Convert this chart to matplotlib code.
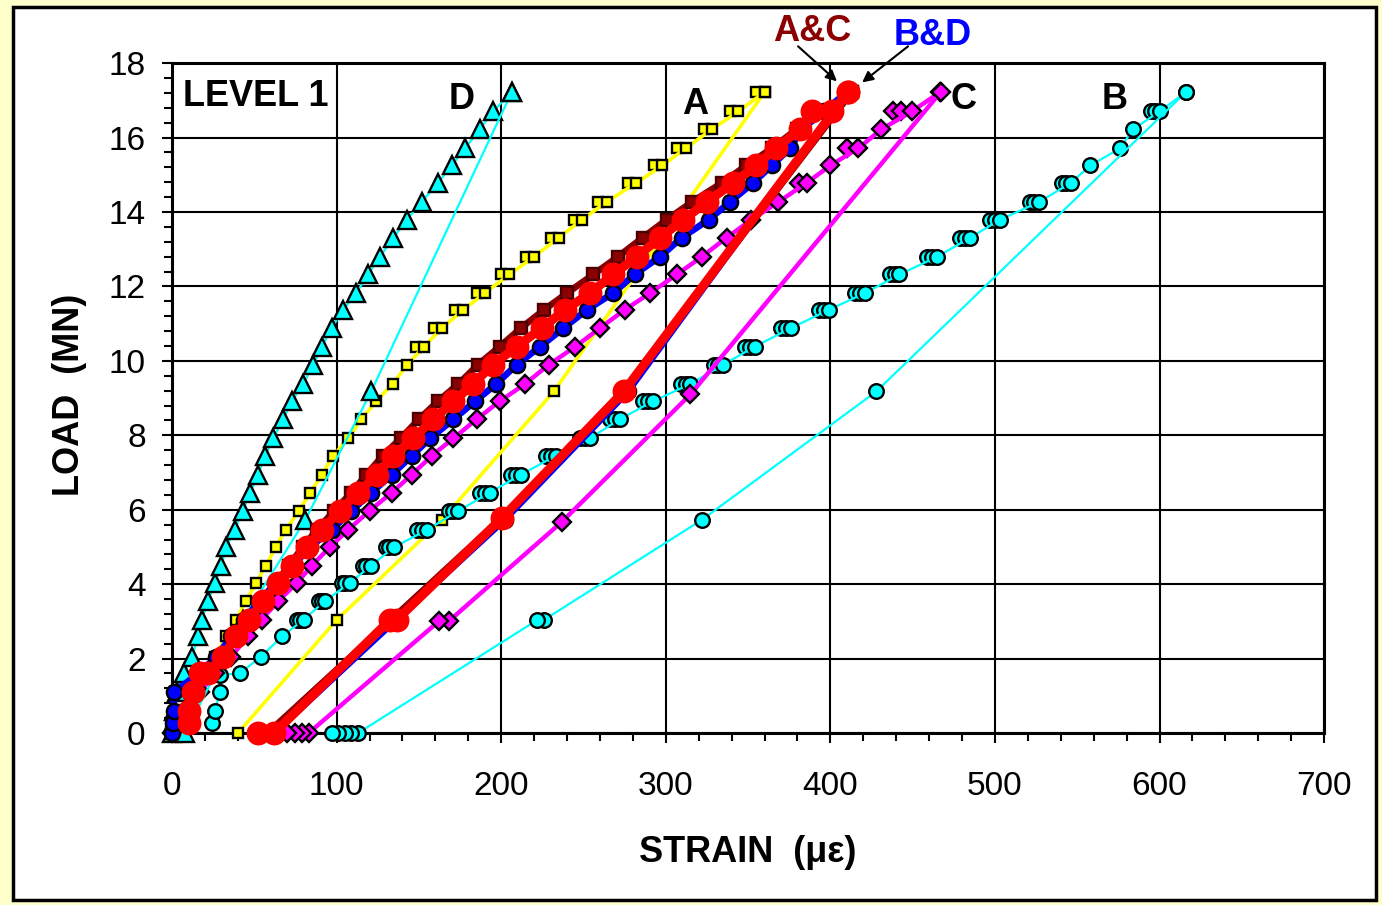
import matplotlib.pyplot as plt
from matplotlib.patches import Rectangle
from matplotlib.ticker import MultipleLocator

plt.rcParams['font.family'] = ['Liberation Sans', 'DejaVu Sans']

# loading branch: load steps (MN) and strains (microstrain) per gauge
LOAD_UP = [0.0, 0.27, 0.6, 1.1, 1.6, 2.05, 2.6, 3.05, 3.55, 4.03, 4.5, 5.0, 5.46, 5.97, 6.46, 6.94,
           7.45, 7.92, 8.43, 8.91, 9.38, 9.9, 10.38, 10.88, 11.37, 11.82, 12.32, 12.8, 13.31,
           13.79, 14.27, 14.78, 15.25, 15.71, 16.22, 16.7, 17.22]

A_UP = [0, 4, 8, 12, 18, 26, 33, 39, 45, 51, 57, 63, 69, 77, 84, 91, 98, 107, 115, 124,
        134, 143, 153, 164, 177, 190, 205, 220, 235, 249, 264, 282, 298, 312, 328, 344, 360]
C_UP = [0, 4, 9, 17, 26, 36, 46, 54.5, 64.6, 75.8, 84.9, 96, 107, 120, 133.5, 145.6, 157.8, 171, 185, 199,
        214.5, 229, 245, 260, 275, 290.5, 306.7, 322, 337, 352, 368.4, 385.6, 400, 417, 431, 449.5, 466.7]
D_UP = [0, 0.5, 1, 3, 7, 12, 16, 18, 22, 26, 30, 33, 38, 43, 47.4, 52.3, 56.5, 61.5, 67.5, 72.7,
        79.8, 85.8, 91, 97, 104, 112, 119, 126.4, 134.5, 142.6, 151.7, 161.6, 170, 178, 187, 195, 206.4]
AC_UP = [0, 4, 8.5, 14.5, 22, 31, 39.5, 47, 55, 63, 71, 79.5, 88, 98.5, 109, 118, 128, 139, 150, 161.5,
         174, 186, 199, 212, 226, 240, 256, 271, 286, 300.5, 316, 334, 349, 364.5, 379.5, 397, 413]
BD_UP = [0, 0.5, 1, 1.2, 16, 27, 36, 44, 53, 63, 73.7, 83.9, 97, 109, 121, 133.5, 145.6, 156.8, 171, 184,
         197, 209.4, 223.6, 237.8, 252, 268, 281, 296.5, 309.7, 326, 339, 353, 364.4, 375.5, 382.6, 396, 410]

B_LOAD_UP = [0.27, 0.6, 1.1, 1.56, 1.6, 2.05, 2.6, 3.05, 3.55, 4.03, 4.5, 5.0, 5.46, 5.97, 6.46, 6.94,
             7.45, 7.92, 8.43, 8.91, 9.38, 9.9, 10.38, 10.88, 11.37, 11.82, 12.32, 12.8, 13.31,
             13.79, 14.27, 14.78, 15.25, 15.71, 16.22, 16.7, 17.22]
B_UP = [24, 26, 29, 29, 41, 54, 67, 80, 93, 108, 121, 135, 155, 174, 193, 212, 233, 254, 272, 292,
        315, 335, 354, 376, 399, 421, 442, 465, 485, 503, 527, 546, 558, 576, 584, 600, 616]

AVG_LOAD_UP = [0.27, 0.6, 1.1, 1.6, 1.6, 2.05, 2.6, 3.05, 3.55, 4.03, 4.5, 5.0, 5.46, 5.97, 6.46, 6.94,
               7.45, 7.92, 8.43, 8.91, 9.38, 9.9, 10.38, 10.88, 11.37, 11.82, 12.32, 12.8, 13.31,
               13.79, 14.27, 14.78, 15.25, 15.71, 16.22, 16.7, 16.7, 17.22]
AVG_UP = [10, 10, 13, 17, 22, 31, 39, 47, 55.5, 64.6, 72.7, 81.8, 91, 102, 113, 124.4, 134.5, 146.6,
          158.8, 171, 183, 195, 209.4, 224.6, 238.8, 254, 268, 282.4, 296.5, 310.7, 325, 341, 355,
          367, 381.6, 389, 401, 411]

# earlier readings taken at the same load step (creep during hold)
A_HOLD_LOAD = [10.38, 10.88, 11.37, 11.82, 12.32, 12.8, 13.31, 13.79, 14.27, 14.78, 15.25, 15.71,
               16.22, 16.7, 17.22]
A_HOLD = [148, 159, 172, 185, 200, 215, 230, 244, 259, 277, 293, 307, 323, 339, 355]
B_HOLD_LOAD = [3.05, 3.55, 4.03, 4.5, 5.0, 5.46, 5.97, 6.46, 6.94, 7.45, 7.92, 8.43, 8.91, 9.38, 9.9,
               10.38, 10.88, 11.37, 11.82, 12.32, 12.8, 13.31, 13.79, 14.27, 14.78, 16.7]
B_HOLD_1 = [76, 89, 103, 116, 130, 149, 168, 187, 206, 227, 248, 266, 286, 309, 329, 348, 370, 393,
            415, 436, 459, 479, 497, 521, 541, 595]
B_HOLD_2 = [78, 91, 105, 118, 132, 152, 171, 190, 209, 230, 251, 269, 289, 312, 332, 351, 373, 396,
            418, 439, 462, 482, 500, 524, 543, 597]
C_HOLD_LOAD = [14.78, 15.71, 16.7, 16.7]
C_HOLD = [381, 410, 438, 443]

# unloading branch
LOAD_DOWN = [17.22, 9.18, 5.73, 3.04, 0.0]
A_DOWN = [360, 232, 164, 100, 40]
D_DOWN = [206.4, 121, 81, 43, 8]
AC_DOWN = [413, 274, 199, 133, 58]
BD_DOWN = [410, 277, 202, 136, 62]

B_LOAD_DOWN = [17.22, 9.18, 5.73, 3.04, 3.04, 0, 0, 0, 0, 0]
B_DOWN = [616, 428, 322, 226, 222, 113, 109, 105, 101, 97]
C_LOAD_DOWN = [17.22, 9.1, 5.68, 3.0, 3.0, 0, 0, 0, 0]
C_DOWN = [467, 315, 237, 168, 162, 83, 79, 75, 70]
AVG_LOAD_DOWN = [17.22, 9.18, 5.77, 3.04, 3.04, 0, 0]
AVG_DOWN = [411, 274.5, 200.3, 136.5, 132.5, 62, 52]

fig = plt.figure(figsize=(13.82, 9.05), dpi=100, facecolor='#FFFFCC')
fig.patches.append(Rectangle((0.0094, 0.0055), 0.9863, 0.9868, transform=fig.transFigure,
                             facecolor='white', edgecolor='black', lw=2.5, zorder=-5))
ax = fig.add_axes([0.1245, 0.19, 0.8336, 0.7403])
ax.set_zorder(2)


def curve(x, y, color, lw, marker, ms, mfc, mec='black', z=3.0):
    ax.plot(x, y, color=color, lw=lw, marker=marker, ms=ms, mfc=mfc, mec=mec,
            mew=1.7, clip_on=False, zorder=z)


def dots(x, y, marker, ms, mfc, z):
    ax.plot(x, y, ls='none', marker=marker, ms=ms, mfc=mfc, mec='black', mew=1.7,
            clip_on=False, zorder=z)


dots(A_HOLD, A_HOLD_LOAD, 's', 7, '#FFFF00', 2.95)
curve(A_UP, LOAD_UP, '#FFFF00', 2.6, 's', 7, '#FFFF00', z=3.0)
curve(A_DOWN, LOAD_DOWN, '#FFFF00', 2.6, 's', 7, '#FFFF00', z=3.0)
dots(B_HOLD_1, B_HOLD_LOAD, 'o', 10.5, '#00FFFF', 3.04)
dots(B_HOLD_2, B_HOLD_LOAD, 'o', 10.5, '#00FFFF', 3.06)
curve(B_UP, B_LOAD_UP, '#00FFFF', 1.6, 'o', 10.5, '#00FFFF', z=3.1)
curve(B_DOWN, B_LOAD_DOWN, '#00FFFF', 1.6, 'o', 10.5, '#00FFFF', z=3.1)
dots(C_HOLD, C_HOLD_LOAD, 'D', 9.5, '#FF00FF', 3.15)
curve(C_UP, LOAD_UP, '#FF00FF', 3.2, 'D', 9.5, '#FF00FF', z=3.2)
curve(C_DOWN, C_LOAD_DOWN, '#FF00FF', 3.2, 'D', 9.5, '#FF00FF', z=3.2)
curve(D_UP, LOAD_UP, '#00FFFF', 1.6, '^', 12.5, '#00FFFF', z=3.3)
curve(D_DOWN, LOAD_DOWN, '#00FFFF', 1.6, '^', 12.5, '#00FFFF', z=3.3)
curve(AC_UP, LOAD_UP, '#8B0000', 4.8, 's', 9, '#8B0000', mec='#4a0000', z=3.4)
curve(AC_DOWN, LOAD_DOWN, '#8B0000', 4.8, 's', 9, '#8B0000', mec='#4a0000', z=3.4)
curve(BD_UP, LOAD_UP, '#0000FF', 4.8, 'o', 11, '#0000FF', z=3.5)
curve(BD_DOWN, LOAD_DOWN, '#0000FF', 4.8, 'o', 11, '#0000FF', z=3.5)
curve(AVG_UP, AVG_LOAD_UP, '#FF0000', 6.5, 'o', 15.5, '#FF0000', mec='#FF0000', z=3.6)
curve(AVG_DOWN, AVG_LOAD_DOWN, '#FF0000', 6.5, 'o', 15.5, '#FF0000', mec='#FF0000', z=3.6)

ax.set_xlim(0, 700)
ax.set_ylim(0, 18)
ax.xaxis.set_major_locator(MultipleLocator(100))
ax.xaxis.set_minor_locator(MultipleLocator(20))
ax.yaxis.set_major_locator(MultipleLocator(2))
ax.yaxis.set_minor_locator(MultipleLocator(0.4))
ax.tick_params(which='major', direction='out', length=7, width=1.5, labelsize=24)
ax.tick_params(which='minor', direction='out', length=5.5, width=1.5)
ax.tick_params(axis='x', which='major', pad=20)
ax.tick_params(axis='y', which='major', pad=12)
ax.grid(True, which='major', color='black', lw=1.5)
ax.set_axisbelow(True)
for s in ax.spines.values():
    s.set_linewidth(2.2)

ax.set_xlabel('STRAIN  (με)', fontsize=26, fontweight='bold')
ax.set_ylabel('LOAD  (MN)', fontsize=26, fontweight='bold')
ax.xaxis.set_label_coords(0.5, -0.152)
ax.yaxis.set_label_coords(-0.074, 0.505)

ax.text(6.7, 17.1, 'LEVEL 1', fontsize=26, fontweight='bold', ha='left', va='center', zorder=5)
for lbl, x, y in [('D', 176, 17.02), ('A', 318, 16.9), ('C', 480.6, 17.02), ('B', 573, 17.02)]:
    ax.text(x, y, lbl, fontsize=26, fontweight='bold', ha='center', va='center', zorder=5)

ax.text(389, 18.85, 'A&C', color='#8B0000', fontsize=26, fontweight='bold',
        ha='center', va='center', clip_on=False)
ax.text(462, 18.74, 'B&D', color='#0000FF', fontsize=26, fontweight='bold',
        ha='center', va='center', clip_on=False)
arrow = dict(arrowstyle='-|>', color='black', lw=1.5, mutation_scale=16, shrinkA=0, shrinkB=0)
ax.annotate('', xy=(404, 17.51), xytext=(380.4, 18.45), annotation_clip=False, arrowprops=arrow)
ax.annotate('', xy=(419.3, 17.48), xytext=(447.2, 18.45), annotation_clip=False, arrowprops=arrow)

fig.savefig('out.png', dpi=100, facecolor=fig.get_facecolor())
